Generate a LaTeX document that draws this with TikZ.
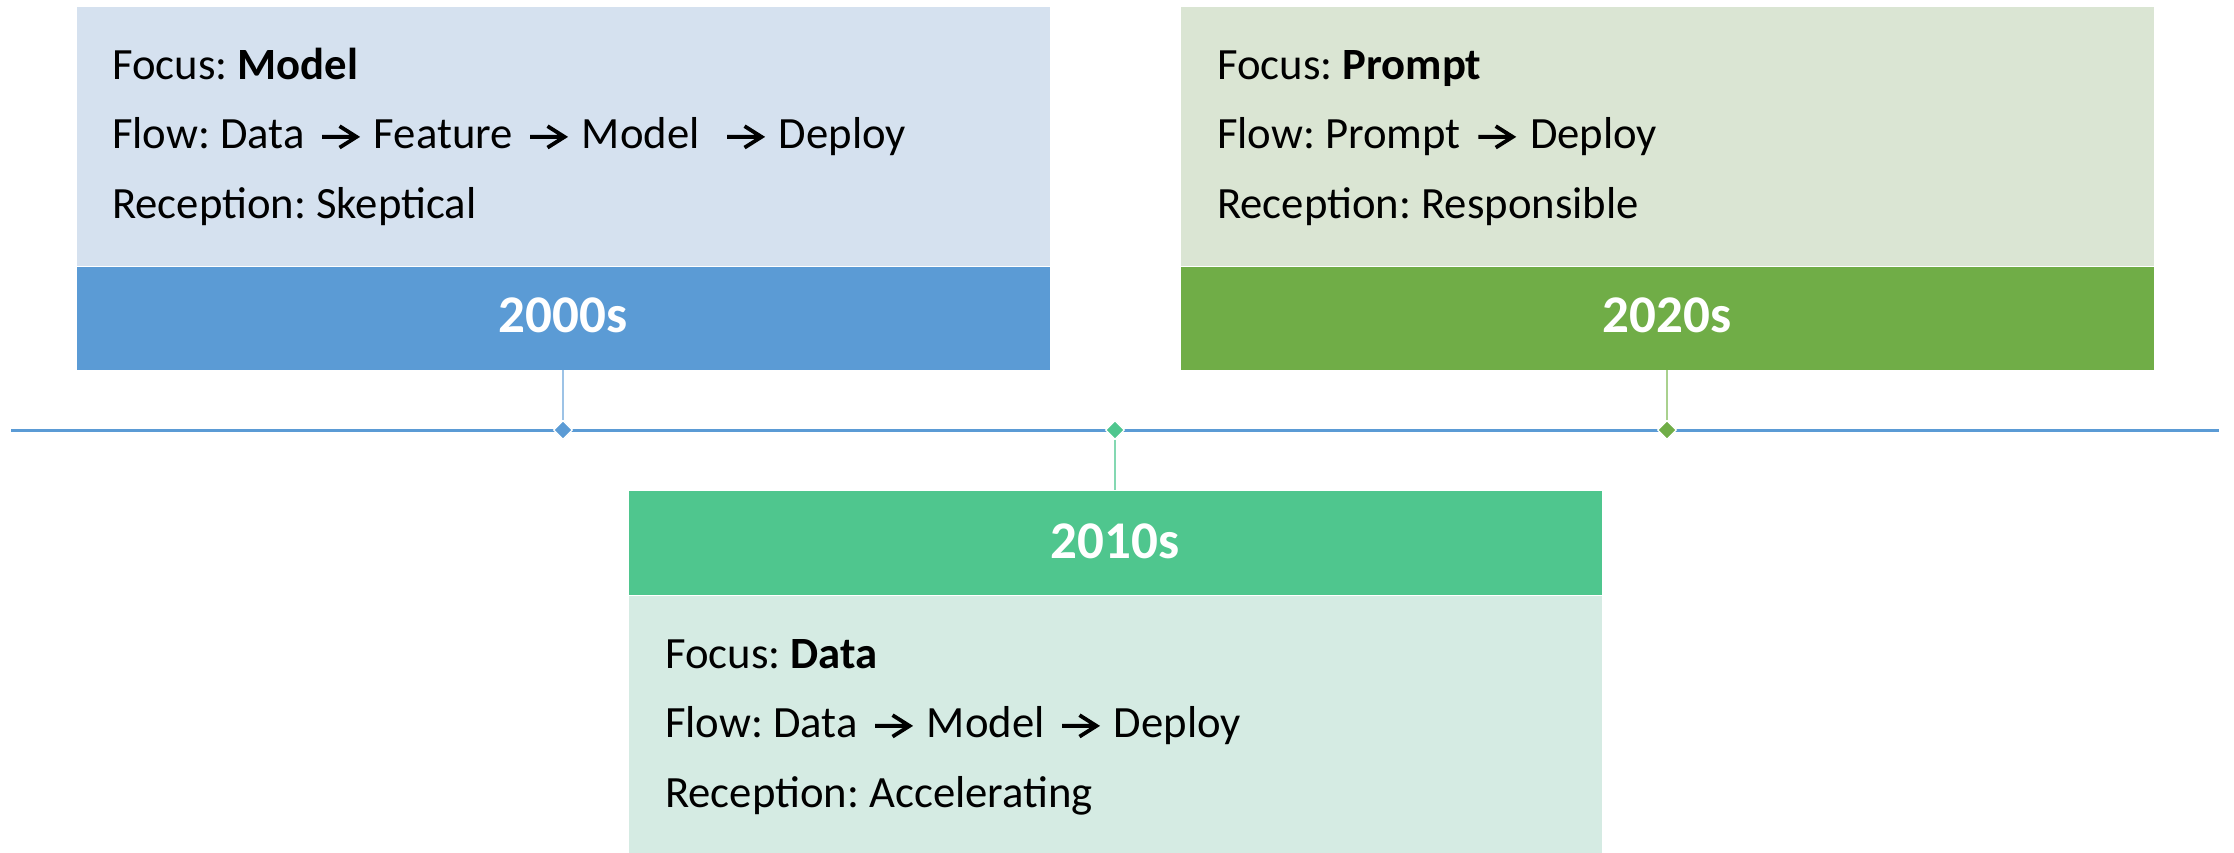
\documentclass[tikz,border=0pt]{standalone}
\usepackage{fontspec}
\setmainfont{Carlito}
\usetikzlibrary{shapes.geometric}
\frenchspacing

\definecolor{blueDark}{HTML}{5B9BD5}
\definecolor{blueLight}{HTML}{D5E1EF}
\definecolor{blueLink}{HTML}{9DC3E6}
\definecolor{mintDark}{HTML}{4FC68E}
\definecolor{mintLight}{HTML}{D5EBE3}
\definecolor{mintLink}{HTML}{84D8B2}
\definecolor{leafDark}{HTML}{70AD47}
\definecolor{leafLight}{HTML}{DAE5D3}
\definecolor{leafLink}{HTML}{A9D18E}
\definecolor{axisBlue}{HTML}{5B9BD5}

% chevron arrow used inside the flow lines
\newcommand{\flowarrow}{\hspace{0.12em}\tikz[baseline=0pt]\draw[black,line width=0.085em,line cap=butt,line join=miter]
  (0.03em,0.26em) -- (0.8em,0.26em) (0.42em,0.5em) -- (0.8em,0.26em) -- (0.42em,0.02em);\hspace{0.12em}}

\begin{document}
\begin{tikzpicture}[x=1pt,y=-1pt,
  panel/.style={rectangle,inner sep=0pt,minimum width=974pt,draw=white,line width=0.8pt},
  infobox/.style={panel,minimum height=260pt},
  yearbar/.style={panel,minimum height=104pt},
  yeartext/.style={anchor=base,inner sep=0pt,text=white,font=\fontsize{53}{60}\selectfont\bfseries},
  infoline/.style={anchor=base west,inner sep=0pt,text=black,font=\fontsize{44.7}{54}\selectfont},
  marker/.style={diamond,aspect=1,inner sep=0pt,minimum width=19pt,minimum height=19pt,draw=white,line width=1.2pt},
  link/.style={line width=1.5pt}]

\useasboundingbox (0,0) rectangle (2234,852);

% timeline axis
\coordinate (axisL) at (11,430);
\coordinate (axisR) at (2219,430);
\draw[axisBlue,line width=3pt] (axisL) -- (axisR);

% 2000s
\node[infobox,fill=blueLight] (box1) at (563,136) {};
\node[yearbar,fill=blueDark] (bar1) at (563,318) {};
\node[yeartext] (year1) at (563,332) {2000s};
\node[infoline] (b1l1) at (112,79) {Focus: \textbf{Model}};
\node[infoline] (b1l2) at (112,148.5) {Flow: Data \flowarrow{} Feature \flowarrow{} Model \ \flowarrow{} Deploy};
\node[infoline] (b1l3) at (112,218) {Reception: Skeptical};

% 2010s
\node[yearbar,fill=mintDark,minimum height=105pt] (bar2) at (1115,542.5) {};
\node[infobox,fill=mintLight,minimum height=258pt] (box2) at (1115,724) {};
\node[yeartext] (year2) at (1115,558) {2010s};
\node[infoline] (b2l1) at (665,668) {Focus: \textbf{Data}};
\node[infoline] (b2l2) at (665,737.5) {Flow: Data \flowarrow{} Model \flowarrow{} Deploy};
\node[infoline] (b2l3) at (665,807) {Reception: Accelerating};

% 2020s
\node[infobox,fill=leafLight] (box3) at (1667,136) {};
\node[yearbar,fill=leafDark] (bar3) at (1667,318) {};
\node[yeartext] (year3) at (1667,332) {2020s};
\node[infoline] (b3l1) at (1217,79) {Focus: \textbf{Prompt}};
\node[infoline] (b3l2) at (1217,148.5) {Flow: Prompt \flowarrow{} Deploy};
\node[infoline] (b3l3) at (1217,218) {Reception: Responsible};

% markers on the axis
\node[marker,fill=blueDark] (m1) at (563,430) {};
\node[marker,fill=mintDark] (m2) at (1115,430) {};
\node[marker,fill=leafDark] (m3) at (1667,430) {};

% connectors from the year bars to the markers
\draw[link,blueLink] (bar1.south) -- (m1.north);
\draw[link,mintLink] (m2.south) -- (bar2.north);
\draw[link,leafLink] (bar3.south) -- (m3.north);

\end{tikzpicture}
\end{document}
